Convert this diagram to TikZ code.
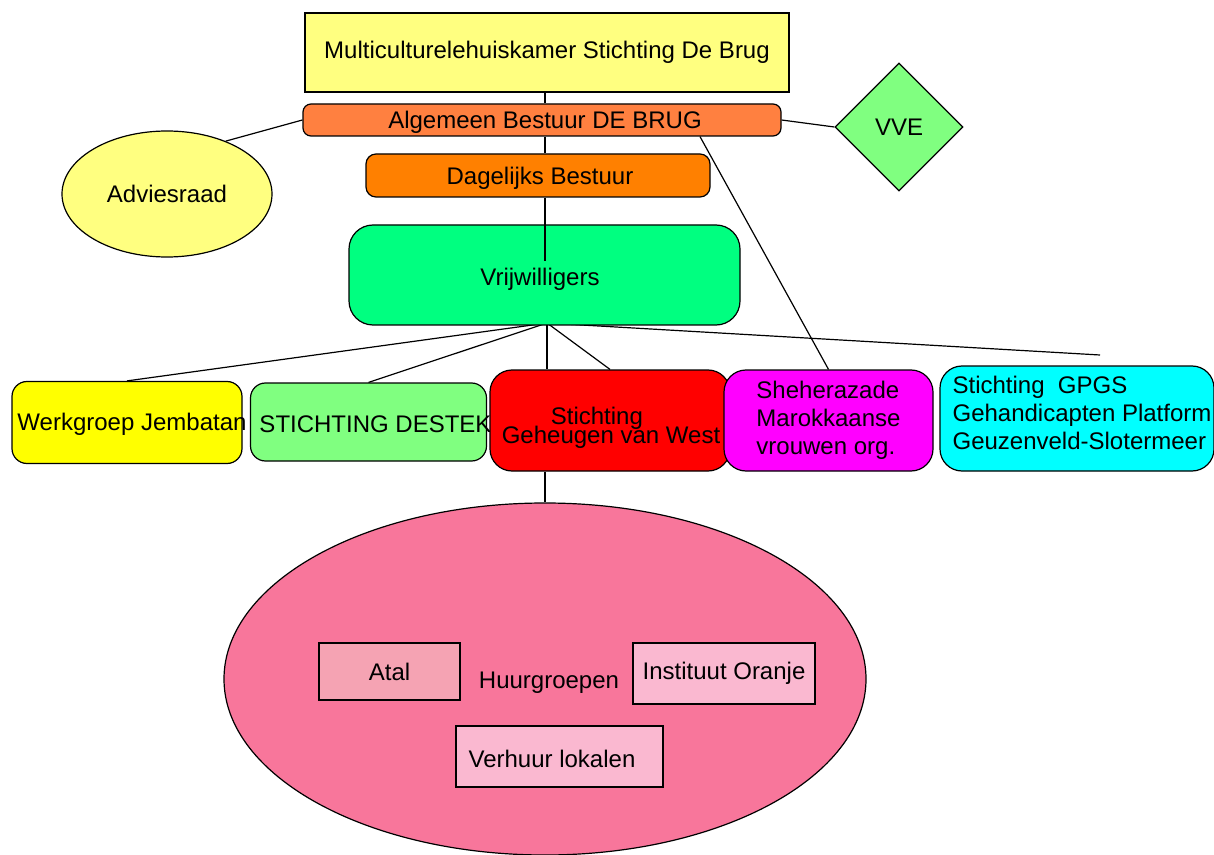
\documentclass[tikz,border=0pt]{standalone}
\usepackage{fontspec}
\setmainfont{Liberation Sans}
\usepackage{xcolor}
\usetikzlibrary{shapes.geometric,backgrounds}

\definecolor{lichtgeel}{HTML}{FFFF80}
\definecolor{felgeel}{HTML}{FFFF00}
\definecolor{algoranje}{HTML}{FF8040}
\definecolor{dagoranje}{HTML}{FF8000}
\definecolor{vrijgroen}{HTML}{00FF80}
\definecolor{lichtgroen}{HTML}{80FF80}
\definecolor{felrood}{HTML}{FF0000}
\definecolor{felpaars}{HTML}{FF00FF}
\definecolor{felcyaan}{HTML}{00FFFF}
\definecolor{huurroze}{HTML}{F8769B}
\definecolor{atalroze}{HTML}{F5A3B3}
\definecolor{lichtroze}{HTML}{FAB8D0}

\begin{document}
\begin{tikzpicture}[x=0.5pt,y=-0.5pt,
  every node/.style={font=\fontsize{12}{14}\selectfont},
  box/.style={draw,line width=0.6pt,inner sep=0pt},
  rbox/.style={box,rounded corners=#1},
  rbox/.default=6pt]
\useasboundingbox (0,0) rectangle (1214,855);

% bestuur
\node[box,fill=lichtgeel,minimum width=242pt,minimum height=39.5pt] (top) at (547,52.5) {Multiculturelehuiskamer Stichting De Brug};
\node[rbox=4pt,fill=algoranje,minimum width=239pt,minimum height=16pt] (alg) at (542,120) {};
\node (algtxt) at (545,122) {Algemeen Bestuur DE BRUG};
\node[rbox=5pt,fill=dagoranje,minimum width=172pt,minimum height=21.5pt] (dag) at (538,175.5) {};
\node (dagtxt) at (540,178) {Dagelijks Bestuur};
\node[rbox=12pt,fill=vrijgroen,minimum width=195.5pt,minimum height=50pt] (vrij) at (544.5,275) {};
\node (vrijtxt) at (540,279) {Vrijwilligers};
\node[box,ellipse,fill=lichtgeel,minimum width=105pt,minimum height=63pt] (advies) at (167,194) {Adviesraad};
\node[box,diamond,fill=lichtgroen,minimum width=64pt,minimum height=64pt] (vve) at (899,127) {VVE};

% groepen
\node[rbox=7.5pt,fill=felgeel,minimum width=115pt,minimum height=41pt] (wj) at (127,422.5) {};
\node (wjtxt) at (132,424) {Werkgroep Jembatan};
\node[rbox=7.5pt,fill=lichtgroen,minimum width=118pt,minimum height=39pt] (destek) at (368.5,422) {};
\node (destektxt) at (375.5,424) {STICHTING DESTEK};
\node[rbox=11pt,fill=felrood,minimum width=120pt,minimum height=50.5pt] (geh) at (610,420.5) {};
\node[align=left] (gehtxt) at (611,428) {\hspace*{24.5pt}Stichting\\[-4.5pt]Geheugen van West};
\node[rbox=11pt,fill=felpaars,minimum width=104.5pt,minimum height=50.5pt,align=left] (sheh) at (828.5,420.5) {Sheherazade\\Marokkaanse\\vrouwen org.};
\node[rbox=11pt,fill=felcyaan,minimum width=137pt,minimum height=52.5pt] (gpgs) at (1077,418.5) {};
\node[align=left] (gpgstxt) at (1082,413) {Stichting~~GPGS\\Gehandicapten Platform\\Geuzenveld-Slotermeer};

% huurgroepen
\node[box,ellipse,fill=huurroze,minimum width=321pt,minimum height=176pt] (huur) at (545,679) {};
\node (huurtxt) at (549,683) {Huurgroepen};
\node[box,fill=atalroze,minimum width=70.5pt,minimum height=28.5pt] (atal) at (389.5,671.5) {Atal};
\node[box,fill=lichtroze,minimum width=91pt,minimum height=30.5pt] (inst) at (724,673.5) {Instituut Oranje};
\node[box,fill=lichtroze,minimum width=103.5pt,minimum height=30.5pt] (verh) at (559.5,756.5) {};
\node (verhtxt) at (552,759) {Verhuur lokalen};

\coordinate (vend) at (545,261);
\coordinate (hub) at (547,323);
\coordinate (gpgsend) at (1100,355);

\begin{pgfonlayer}{background}
\draw[line width=0.6pt] (alg.west) -- (advies.42);
\draw[line width=0.6pt] (alg.east) -- (vve.west);
\draw[line width=0.6pt] (alg.-6.5) -- (sheh.north);
\draw[line width=0.6pt] (vend |- top.south) -- (vend |- alg.north);
\draw[line width=0.6pt] (vend |- alg.south) -- (vend |- dag.north);
\draw[line width=0.6pt] (hub) -- (wj.north);
\draw[line width=0.6pt] (hub) -- (destek.north);
\draw[line width=0.6pt] (hub) -- (hub |- geh.north);
\draw[line width=0.6pt] (hub) -- (geh.north);
\draw[line width=0.6pt] (hub) -- (gpgsend);
\draw[line width=0.6pt] (huur.north |- geh.south) -- (huur.north);
\end{pgfonlayer}
\draw[line width=0.6pt] (vend |- dag.south) -- (vend);
\end{tikzpicture}
\end{document}
